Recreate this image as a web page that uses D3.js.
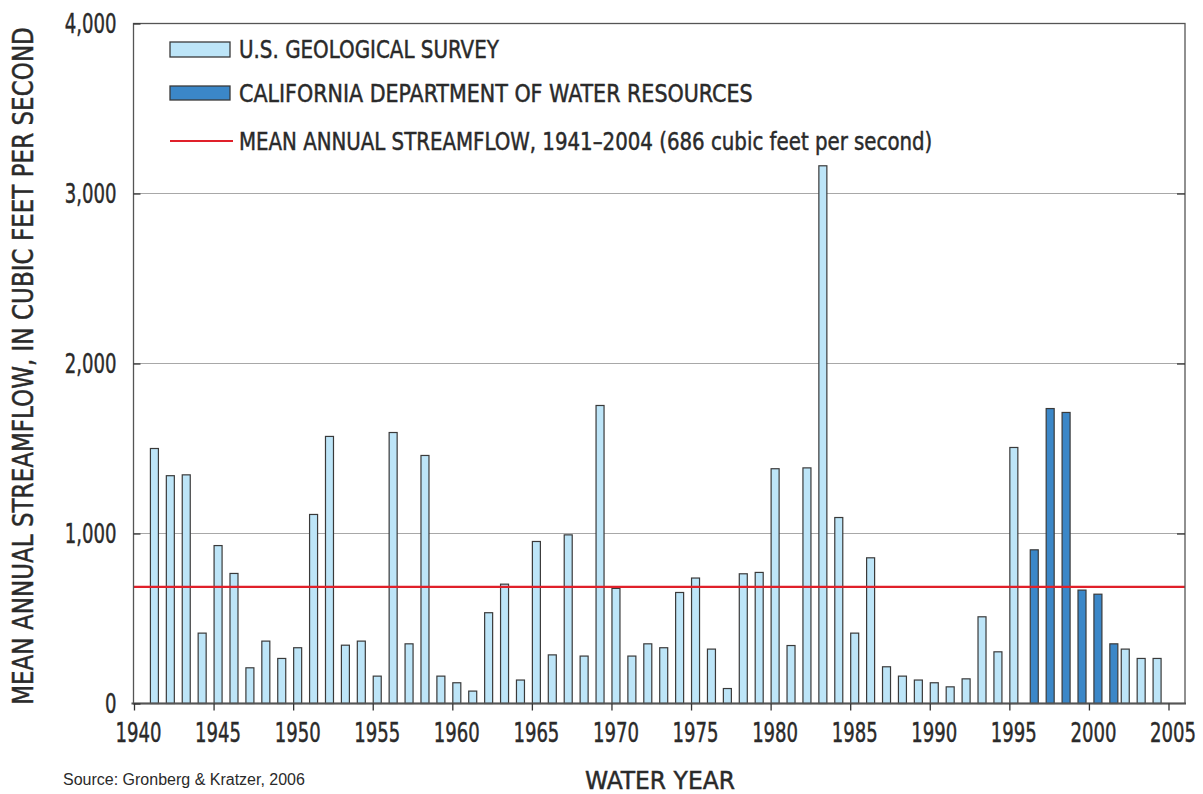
<!DOCTYPE html>
<html><head><meta charset="utf-8">
<script src="https://cdn.jsdelivr.net/npm/d3@7"></script>
<style>
html,body{margin:0;padding:0;background:#fff;}
svg text{font-family:"Liberation Sans Narrow","DejaVu Sans Condensed","Arial Narrow",sans-serif;fill:#2a2a2a;}
svg text.heavy{stroke:#2a2a2a;stroke-width:0.45px;}
</style></head>
<body><svg id="chart" width="1203" height="794"></svg>
<script>
const usgsYears = [1941,1942,1943,1944,1945,1946,1947,1948,1949,1950,1951,1952,1953,1954,1955,1956,1957,1958,1959,1960,1961,1962,1963,1964,1965,1966,1967,1968,1969,1970,1971,1972,1973,1974,1975,1976,1977,1978,1979,1980,1981,1982,1983,1984,1985,1986,1987,1988,1989,1990,1991,1992,1993,1994,1995,2002,2003,2004];
const usgsValues = [1500,1340,1345,414,929,765,210,367,265,328,1112,1571,343,367,161,1594,351,1459,161,122,73,534,702,138,953,286,992,279,1753,677,279,351,328,653,738,320,88,763,771,1381,341,1386,3163,1094,414,857,216,161,138,122,98,145,510,304,1506,320,265,265];
const dwrYears = [1996,1997,1998,1999,2000,2001];
const dwrValues = [904,1735,1712,667,643,351];
const meanFlow = 686;
const yTicks = [0,1000,2000,3000,4000];
const xTicks = [1940,1945,1950,1955,1960,1965,1970,1975,1980,1985,1990,1995,2000,2005];
const legendLabels = ["U.S. GEOLOGICAL SURVEY","CALIFORNIA DEPARTMENT OF WATER RESOURCES","MEAN ANNUAL STREAMFLOW, 1941\u20132004 (686 cubic feet per second)"];

(function(){
const C = {light:"#bde5f8", dark:"#3b87c8", red:"#e0202a", stroke:"#3a3a3a", grid:"#a8a8a8", frame:"#555"};
const svg = d3.select("#chart");
const pL = 133.5, pR = 1185, pT = 23.5, pB = 703.5;
const x = d3.scaleLinear().domain([1940,2005]).range([134,1168.5]);
const y = d3.scaleLinear().domain([0,4000]).range([pB, pT]);
const barW = 8;
const narrow = '"Liberation Sans Narrow","DejaVu Sans Condensed",sans-serif';
// squeeze a text horizontally to a target width using a scale transform
function fitText(sel, base, w){ const n = sel.node().getComputedTextLength(); sel.attr("transform", base + ` scale(${w/n},1)`); }

svg.append("g").selectAll("line").data(yTicks.filter(d=>d>0 && d<4000)).join("line")
  .attr("x1",pL).attr("x2",pR).attr("y1",d=>y(d)).attr("y2",d=>y(d))
  .attr("stroke",C.grid).attr("stroke-width",1.2);

svg.append("g").selectAll("rect").data(usgsYears.map((yr,i)=>({yr,v:usgsValues[i]}))).join("rect")
  .attr("x",d=>x(d.yr)+0.5).attr("width",barW)
  .attr("y",d=>y(d.v)).attr("height",d=>pB-y(d.v))
  .attr("fill",C.light).attr("stroke",C.stroke).attr("stroke-width",1.2);
svg.append("g").selectAll("rect").data(dwrYears.map((yr,i)=>({yr,v:dwrValues[i]}))).join("rect")
  .attr("x",d=>x(d.yr)+5).attr("width",barW)
  .attr("y",d=>y(d.v)).attr("height",d=>pB-y(d.v))
  .attr("fill",C.dark).attr("stroke",C.stroke).attr("stroke-width",1.2);

svg.append("line").attr("x1",pL).attr("x2",pR).attr("y1",y(meanFlow)).attr("y2",y(meanFlow))
  .attr("stroke",C.red).attr("stroke-width",2.2);

svg.append("rect").attr("x",pL).attr("y",pT).attr("width",pR-pL).attr("height",pB-pT)
  .attr("fill","none").attr("stroke",C.frame).attr("stroke-width",1.3);
svg.append("line").attr("x1",pL-2).attr("x2",pR+1).attr("y1",pB).attr("y2",pB)
  .attr("stroke",C.frame).attr("stroke-width",2);

const yAxis = d3.axisLeft(y).tickValues(yTicks).tickFormat(d3.format(",")).tickSize(-7).tickPadding(17);
const gy = svg.append("g").attr("transform",`translate(${pL},0)`).call(yAxis);
gy.select(".domain").remove();
gy.selectAll(".tick line").attr("stroke","#333").attr("stroke-width",1.3);
const yLab = gy.selectAll(".tick text").attr("class","heavy").attr("font-size",27).attr("fill","#2a2a2a").style("font-family",narrow);
const yAxisR = d3.axisRight(y).tickValues(yTicks.filter(d=>d>0&&d<4000)).tickSize(-8).tickFormat("");
const gyr = svg.append("g").attr("transform",`translate(${pR},0)`).call(yAxisR);
gyr.select(".domain").remove();
gyr.selectAll(".tick line").attr("stroke","#333").attr("stroke-width",1.3);

const xAxis = d3.axisBottom(x).tickValues(xTicks).tickFormat(d3.format("d")).tickSize(7).tickPadding(12);
const gx = svg.append("g").attr("transform",`translate(0,${pB})`).call(xAxis);
gx.select(".domain").remove();
gx.selectAll(".tick line").attr("stroke","#333").attr("stroke-width",1.3);
const xLab = gx.selectAll(".tick text").attr("class","heavy").attr("font-size",27).attr("fill","#2a2a2a").style("font-family",narrow);
const k = 46 / xLab.node().getComputedTextLength();
xLab.attr("transform",`translate(4,0) scale(${k},1)`);
yLab.attr("x", -17 / k).attr("transform",`scale(${k},1)`);

fitText(svg.append("text").attr("class","heavy").attr("text-anchor","middle")
  .attr("font-size",28).text("MEAN ANNUAL STREAMFLOW, IN CUBIC FEET PER SECOND"), "translate(33,366) rotate(-90)", 678);
fitText(svg.append("text").attr("class","heavy").attr("text-anchor","middle")
  .attr("font-size",25).text("WATER YEAR"), "translate(660,789)", 150);
svg.append("text").attr("x",63).attr("y",785).attr("font-size",16)
  .style("font-family","Arial, 'Liberation Sans', sans-serif").attr("fill","#222").text("Source: Gronberg & Kratzer, 2006");

const lg = svg.append("g");
const ly = [49.5, 93.5, 141];
const lw = [260, 514, 694];
lg.append("rect").attr("x",170).attr("y",42).attr("width",60).attr("height",15)
  .attr("fill",C.light).attr("stroke",C.stroke).attr("stroke-width",1.3);
lg.append("rect").attr("x",170).attr("y",86).attr("width",60).attr("height",14)
  .attr("fill",C.dark).attr("stroke",C.stroke).attr("stroke-width",1.3);
lg.append("line").attr("x1",170).attr("x2",233).attr("y1",141).attr("y2",141)
  .attr("stroke",C.red).attr("stroke-width",2.2);
lg.selectAll("text").data(legendLabels).join("text").attr("class","heavy")
  .attr("font-size",24.5).text(d=>d)
  .each(function(d,i){ fitText(d3.select(this), `translate(239,${ly[i]+8.5})`, lw[i]); });
})();
</script></body></html>
